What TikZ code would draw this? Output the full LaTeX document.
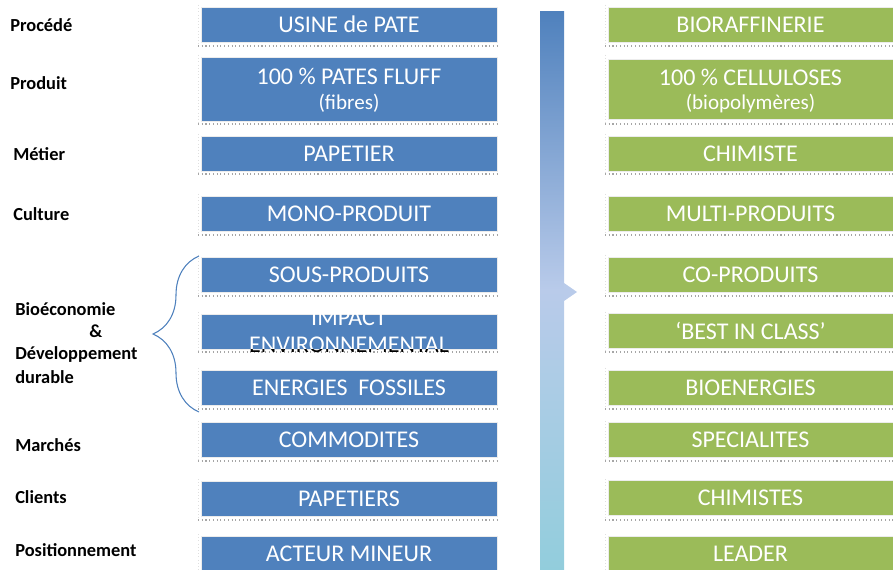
\documentclass[tikz,border=0pt]{standalone}
\usepackage{fontspec}
\setmainfont{Carlito}
\usetikzlibrary{decorations.pathreplacing}
\definecolor{bbox}{HTML}{4F81BD}
\definecolor{gbox}{HTML}{9BBB59}
\definecolor{gtop}{HTML}{4F81BD}
\definecolor{gmid}{HTML}{B9CBEA}
\definecolor{gbot}{HTML}{92CDDC}
\tikzset{
  cell/.style={inner sep=0pt, text=white, font=\fontsize{18}{20}\selectfont, align=center, minimum height=26.25pt, draw=white!85!gray, line width=0.6pt},
  blue/.style={cell, fill=bbox, minimum width=222pt},
  green/.style={cell, fill=gbox, minimum width=213.75pt},
  lab/.style={anchor=west, inner sep=0pt, font=\fontsize{13.8}{15}\selectfont\bfseries, align=left},
  frame/.style={draw=gray!70, dotted, line width=0.8pt},
}
\begin{document}
\begin{tikzpicture}[x=0.75pt,y=-0.75pt]
\useasboundingbox (0,0) rectangle (893,570);
% gradient bar
\shade[top color=gtop, bottom color=gmid, shading=axis] (540,12) rectangle (564,290);
\shade[top color=gmid, bottom color=gbot, shading=axis] (540,289.5) rectangle (564,570);
\fill[gmid] (564,283) -- (577,292) -- (564,301) -- cycle;
% frames under boxes
\foreach \t/\b in {5/46,55/124,134/174,194/235,255/296,312/352,368/409,421/461,479/520,534/575}{
  \draw[frame] (198,\b) -- (500,\b);
  \draw[gray!25, dotted] (198,\t) -- (198,\b);
  \draw[frame] (605,\b) -- (893,\b);
  \draw[gray!25, dotted] (605,\t) -- (605,\b);
}
% left boxes
\node[blue] (l1) at (349,24.5) {USINE de PATE};
\node[blue, minimum height=48pt] (l2) at (349,89) {};
\node[text=white, font=\fontsize{18}{20}\selectfont] (l2a) at (349,76) {100 \% PATES FLUFF};
\node[text=white, font=\fontsize{15.8}{17}\selectfont] (l2b) at (349,103) {(fibres)};
\node[blue] (l3) at (349,153.5) {PAPETIER};
\node[blue] (l4) at (349,214) {MONO-PRODUIT};
\node[blue] (l5) at (349,274.5) {SOUS-PRODUITS};
\node[blue] (l6) at (349,331.5) {};
\begin{scope}
  \clip (201,314) rectangle (497,349);
  \node[text=white, font=\fontsize{18}{20}\selectfont, align=center] (l6t) at (349,331.5) {IMPACT\\ENVIRONNEMENTAL};
\end{scope}
\begin{scope}
  \clip (150,349.8) rectangle (520,362);
  \node[text=black, font=\fontsize{18}{20}\selectfont, align=center] (l6u) at (349,331.5) {IMPACT\\ENVIRONNEMENTAL};
\end{scope}
\node[blue] (l7) at (349,387.5) {ENERGIES\ \ FOSSILES};
\node[blue] (l8) at (349,440) {COMMODITES};
\node[blue] (l9) at (349,498.5) {PAPETIERS};
\node[blue] (l10) at (349,553.5) {ACTEUR MINEUR};
% right boxes
\node[green] (r1) at (750.5,24.5) {BIORAFFINERIE};
\node[green, minimum height=45pt] (r2) at (750.5,89) {};
\node[text=white, font=\fontsize{18}{20}\selectfont] (r2a) at (750.5,77) {100 \% CELLULOSES};
\node[text=white, font=\fontsize{15.8}{17}\selectfont] (r2b) at (750.5,103) {(biopolymères)};
\node[green] (r3) at (750.5,153.5) {CHIMISTE};
\node[green] (r4) at (750.5,214) {MULTI-PRODUITS};
\node[green] (r5) at (750.5,274.5) {CO-PRODUITS};
\node[green] (r6) at (750.5,330.5) {‘BEST IN CLASS’};
\node[green] (r7) at (750.5,387.5) {BIOENERGIES};
\node[green] (r8) at (750.5,440) {SPECIALITES};
\node[green] (r9) at (750.5,497.5) {CHIMISTES};
\node[green] (r10) at (750.5,553.5) {LEADER};
% brace
\draw[bbox, line width=0.8pt, decorate, decoration={brace, amplitude=34.5pt, aspect=0.5}] (199,412) -- (199,256);
% labels
\node[lab] (t1) at (10,25) {Procédé};
\node[lab] (t2) at (10,83) {Produit};
\node[lab] (t3) at (13,154) {Métier};
\node[lab] (t4) at (13,214) {Culture};
\node[lab] (t5) at (15,309) {Bioéconomie};
\node[lab] (t5b) at (89,331) {\&};
\node[lab] (t5c) at (15,354) {Développement};
\node[lab] (t5d) at (15,377) {durable};
\node[lab] (t6) at (15,445) {Marchés};
\node[lab] (t7) at (15,497) {Clients};
\node[lab] (t8) at (15,550) {Positionnement};
\end{tikzpicture}
\end{document}
